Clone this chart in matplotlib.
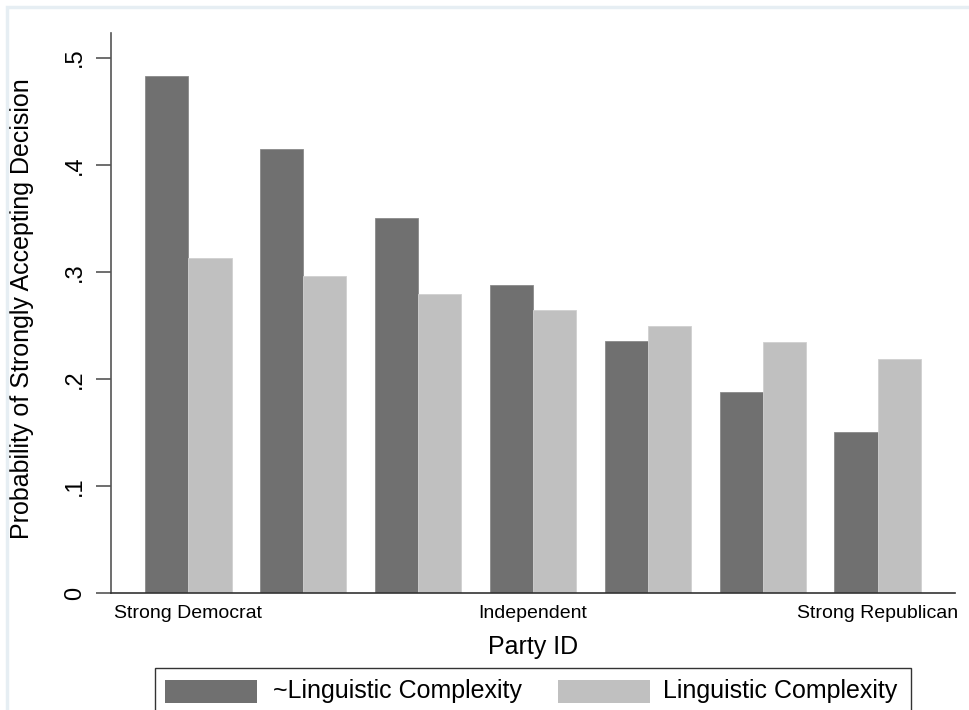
import matplotlib
matplotlib.use("Agg")
import matplotlib.pyplot as plt
from matplotlib.patches import Rectangle
import numpy as np

plt.rcParams['font.family'] = ['Liberation Sans', 'DejaVu Sans']

categories = ["Strong Democrat", "", "", "Independent", "", "", "Strong Republican"]
not_complex = [0.483, 0.415, 0.350, 0.288, 0.235, 0.188, 0.150]
complex_ = [0.313, 0.296, 0.279, 0.264, 0.249, 0.234, 0.219]
series_names = ["~Linguistic Complexity", "Linguistic Complexity"]
yticks = [0, 0.1, 0.2, 0.3, 0.4, 0.5]
ytick_labels = ["0", ".1", ".2", ".3", ".4", ".5"]

W, H = 969, 710
fig = plt.figure(figsize=(W/100, H/100), dpi=100)
fig.patch.set_facecolor('white')

# outer light frame
fig.patches.append(Rectangle((7/W, -0.1), 1.2, (H-7)/H + 0.1, transform=fig.transFigure,
                             fill=False, edgecolor='#e6eef3', linewidth=2.5))

ax = fig.add_axes([111/W, 1-593/H, (955-111)/W, (593-33)/H])
x = np.arange(len(categories))
w = 0.378
ax.bar(x - w/2, not_complex, width=w, color='#707070', edgecolor='#8a8a8a', linewidth=0.6)
ax.bar(x + w/2, complex_, width=w, color='#c0c0c0', edgecolor='#d0d0d0', linewidth=0.6)

ax.set_xlim(-0.67, 6.67)
ax.set_ylim(0, 0.523)
for s in ['top', 'right']:
    ax.spines[s].set_visible(False)
ax.spines['left'].set_color('#555555')
ax.spines['bottom'].set_color('#333333')
ax.spines['left'].set_linewidth(1.2)
ax.spines['bottom'].set_linewidth(1.2)

ax.set_yticks(yticks)
ax.set_yticklabels(ytick_labels, rotation=90, va='center', fontsize=17)
ax.tick_params(axis='y', length=11, width=1.2, color='#555555', pad=7)
ax.set_xticks(x)
ax.set_xticklabels(categories, fontsize=14)
ax.tick_params(axis='x', length=0, pad=9)
ax.set_ylabel("Probability of Strongly Accepting Decision", fontsize=18, labelpad=0)
ax.yaxis.label.set_va('center')
ax.yaxis.set_label_coords(22/W, 1-309/H, transform=fig.transFigure)
ax.set_xlabel("Party ID", fontsize=18)
ax.xaxis.label.set_va('center')
ax.xaxis.set_label_coords(533/W, 1-647/H, transform=fig.transFigure)

# legend
lx0, ly0, lx1 = 155, 668, 911
fig.patches.append(Rectangle((lx0/W, -0.1), (lx1-lx0)/W, (H-ly0)/H + 0.1, transform=fig.transFigure,
                             fill=True, facecolor='white', edgecolor='#333333', linewidth=1.0))
cols = ['#707070', '#c0c0c0']
px = [165, 558]
tx = [273, 663]
for i in range(2):
    fig.patches.append(Rectangle((px[i]/W, 1-703/H), 92/W, 23/H, transform=fig.transFigure,
                                 facecolor=cols[i], edgecolor='none'))
    fig.text(tx[i]/W, 1-691/H, series_names[i], fontsize=18, va='center', ha='left')

fig.savefig("out.png", dpi=100)
